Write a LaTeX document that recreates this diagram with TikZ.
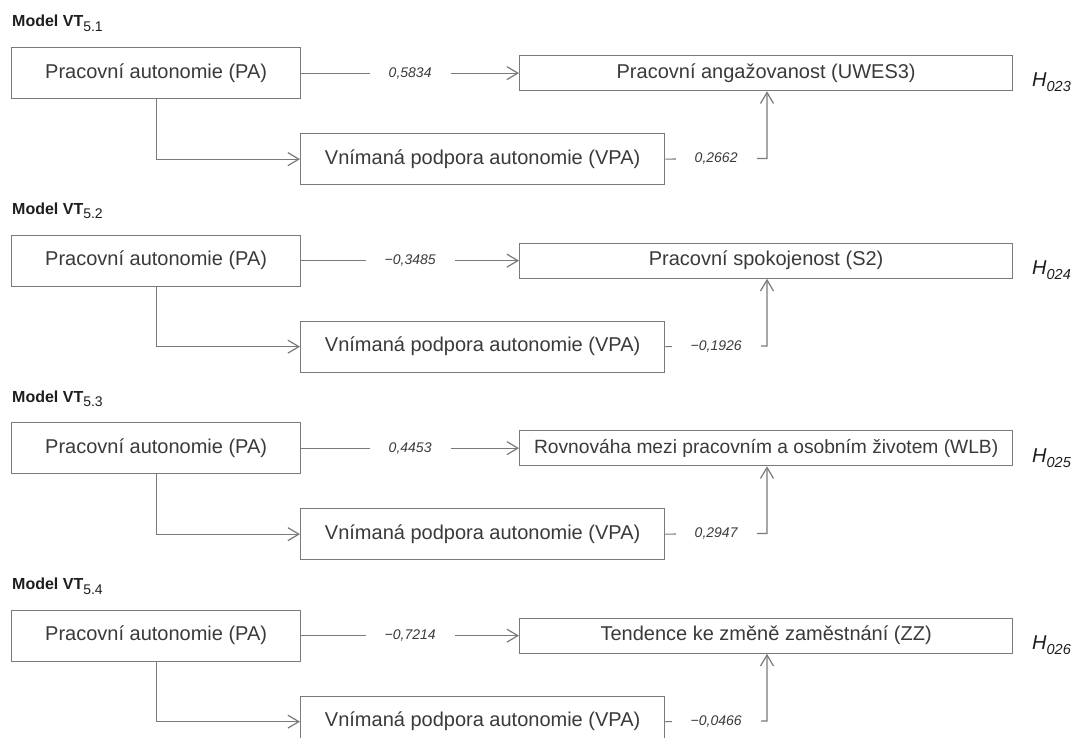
\documentclass[tikz,border=0pt]{standalone}
\usepackage{fontspec}
\setmainfont{Liberation Sans}
\usetikzlibrary{arrows.meta}
\definecolor{linegray}{HTML}{7A7A7A}
\definecolor{txtgray}{HTML}{3A3A3A}
\definecolor{titleblack}{HTML}{1E1E1E}
\tikzset{
  box/.style={draw=linegray, line width=1.3pt, fill=white, inner sep=0pt,
    anchor=north west, text=txtgray, font=\fontsize{20}{24}\selectfont},
  conn/.style={draw=linegray, line width=1.2pt,
    -{Straight Barb[length=11pt,width=13pt,line width=1.2pt]}},
  coef/.style={fill=white, inner xsep=19pt, inner ysep=2pt, text=txtgray,
    font=\fontsize{14}{16}\selectfont\itshape},
  title/.style={anchor=base west, inner sep=0pt, text=titleblack,
    font=\bfseries\fontsize{16}{18}\selectfont},
  hyp/.style={anchor=base west, inner sep=0pt, text=titleblack,
    font=\itshape\fontsize{20}{24}\selectfont},
}
% one path model: PA -> outcome, PA -> VPA -> outcome
% #1 id, #2 vertical offset, #3 model index, #4 outcome text, #5 outcome font,
% #6 direct coefficient, #7 coefficient via VPA, #8 hypothesis index
\newcommand\modelblock[8]{%
  \node[title] (t#1) at (12, 27+#2)
    {Model VT\raisebox{-4.5pt}{\mdseries\fontsize{14}{16}\selectfont #3}};
  \node[box, minimum width=289pt, minimum height=51pt] (pa#1) at (11, 47+#2)
    {Pracovní autonomie (PA)};
  \node[box, minimum width=493pt, minimum height=35pt, font=#5] (out#1) at (519, 55+#2)
    {#4};
  \node[box, minimum width=364pt, minimum height=51pt] (vpa#1) at (300, 133+#2)
    {Vnímaná podpora autonomie (VPA)};
  \node[hyp] (h#1) at (1032, 87+#2)
    {H\raisebox{-5pt}{\fontsize{14.5}{17}\selectfont #8}};
  \coordinate (c#1) at (767, 158.5+#2);
  \draw[conn] (pa#1.east) -- node[coef] {#6} (pa#1.east -| out#1.west);
  \draw[conn] (pa#1.south) |- (vpa#1.west);
  \draw[conn] (vpa#1.east) -- node[coef] {#7} (c#1) -- (c#1 |- out#1.south);
}
\begin{document}
\begin{tikzpicture}[x=1pt, y=-1pt]
  \useasboundingbox[fill=white] (0,0) rectangle (1076,738);
  \clip (0,0) rectangle (1076,738);
  \modelblock{a}{0}{5.1}{Pracovní angažovanost (UWES3)}{\fontsize{20}{24}\selectfont}{0,5834}{0,2662}{023}
  \modelblock{b}{187.5}{5.2}{Pracovní spokojenost (S2)}{\fontsize{20}{24}\selectfont}{−0,3485}{−0,1926}{024}
  \modelblock{c}{375}{5.3}{Rovnováha mezi pracovním a osobním životem (WLB)}{\fontsize{19.2}{23}\selectfont}{0,4453}{0,2947}{025}
  \modelblock{d}{562.5}{5.4}{Tendence ke změně zaměstnání (ZZ)}{\fontsize{20}{24}\selectfont}{−0,7214}{−0,0466}{026}
\end{tikzpicture}
\end{document}
